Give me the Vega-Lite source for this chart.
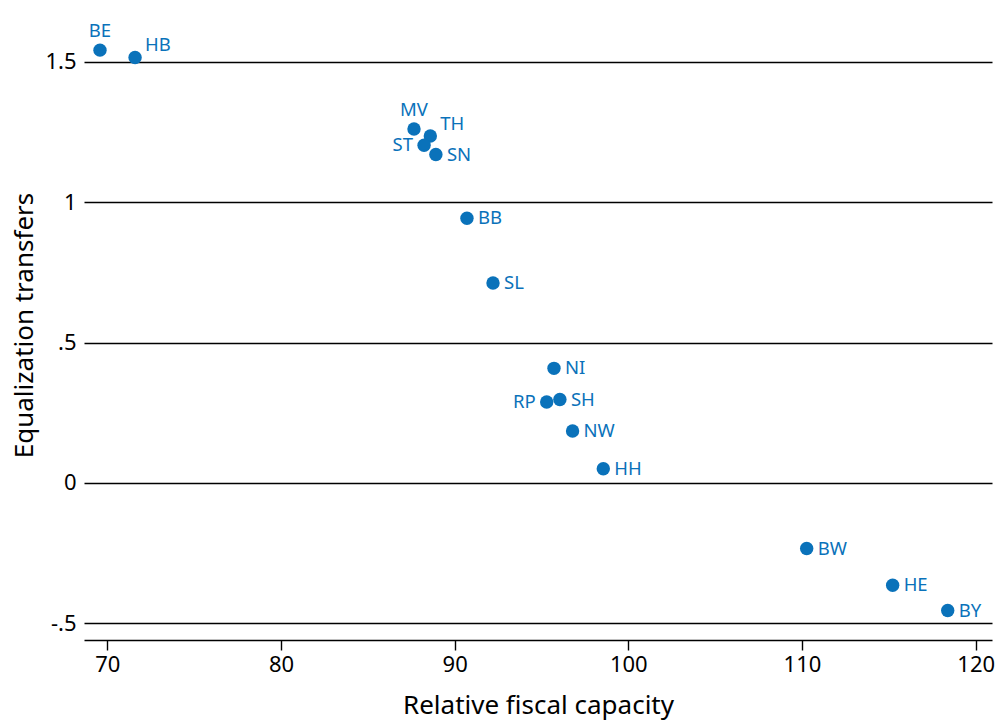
{
  "$schema": "https://vega.github.io/schema/vega-lite/v6.json",
  "width": 908,
  "height": 630,
  "autosize": {"type": "none"},
  "padding": {"left": 84, "top": 10, "right": 7, "bottom": 82},
  "background": "white",
  "config": {"view": {"stroke": null}, "font": "Noto Sans"},
  "data": {
    "values": [
      {"state": "BE", "capacity": 69.58, "transfers": 1.542, "pos": "above"},
      {"state": "HB", "capacity": 71.60, "transfers": 1.516, "pos": "upright"},
      {"state": "MV", "capacity": 87.66, "transfers": 1.261, "pos": "above"},
      {"state": "TH", "capacity": 88.60, "transfers": 1.236, "pos": "upright"},
      {"state": "ST", "capacity": 88.24, "transfers": 1.203, "pos": "left"},
      {"state": "SN", "capacity": 88.92, "transfers": 1.170, "pos": "right"},
      {"state": "BB", "capacity": 90.71, "transfers": 0.943, "pos": "right"},
      {"state": "SL", "capacity": 92.21, "transfers": 0.712, "pos": "right"},
      {"state": "NI", "capacity": 95.72, "transfers": 0.408, "pos": "right"},
      {"state": "RP", "capacity": 95.30, "transfers": 0.288, "pos": "left"},
      {"state": "SH", "capacity": 96.06, "transfers": 0.297, "pos": "right"},
      {"state": "NW", "capacity": 96.79, "transfers": 0.185, "pos": "right"},
      {"state": "HH", "capacity": 98.56, "transfers": 0.050, "pos": "right"},
      {"state": "BW", "capacity": 110.27, "transfers": -0.234, "pos": "right"},
      {"state": "HE", "capacity": 115.22, "transfers": -0.365, "pos": "right"},
      {"state": "BY", "capacity": 118.39, "transfers": -0.455, "pos": "right"}
    ]
  },
  "encoding": {
    "x": {
      "field": "capacity", "type": "quantitative",
      "scale": {"domain": [68.66, 120.94], "nice": false, "zero": false},
      "axis": {
        "title": "Relative fiscal capacity", "values": [70, 80, 90, 100, 110, 120],
        "grid": false, "domainColor": "black", "domainWidth": 1.4, "tickColor": "black", "tickWidth": 1.4, "tickSize": 10,
        "labelFontSize": 22, "labelColor": "black", "labelPadding": 4,
        "titleFontSize": 26, "titleFontWeight": "normal", "titleColor": "black", "titlePadding": 17
      }
    },
    "y": {
      "field": "transfers", "type": "quantitative",
      "scale": {"domain": [-0.56, 1.685], "nice": false, "zero": false},
      "axis": {
        "title": "Equalization transfers", "values": [-0.5, 0, 0.5, 1, 1.5],
        "labelExpr": "datum.value == 1.5 ? '1.5' : datum.value == 1 ? '1' : datum.value == 0.5 ? '.5' : datum.value == 0 ? '0' : '-.5'",
        "grid": true, "gridColor": "black", "gridWidth": 1.3, "gridOpacity": 1,
        "domain": false, "ticks": false, "labelPadding": 8,
        "labelFontSize": 22, "labelColor": "black",
        "titleFontSize": 26, "titleFontWeight": "normal", "titleColor": "black", "titlePadding": 7
      }
    }
  },
  "layer": [
    {"mark": {"type": "point", "filled": true, "size": 180, "opacity": 1, "color": "#0a72ba"}},
    {
      "transform": [{"filter": "datum.pos == 'right'"}],
      "mark": {"type": "text", "align": "left", "baseline": "middle", "dx": 11, "fontSize": 18.5, "color": "#0a72ba"},
      "encoding": {"text": {"field": "state"}}
    },
    {
      "transform": [{"filter": "datum.pos == 'upright'"}],
      "mark": {"type": "text", "align": "left", "baseline": "middle", "dx": 10, "dy": -12, "fontSize": 18.5, "color": "#0a72ba"},
      "encoding": {"text": {"field": "state"}}
    },
    {
      "transform": [{"filter": "datum.pos == 'above'"}],
      "mark": {"type": "text", "align": "center", "baseline": "middle", "dy": -19, "fontSize": 18.5, "color": "#0a72ba"},
      "encoding": {"text": {"field": "state"}}
    },
    {
      "transform": [{"filter": "datum.pos == 'left'"}],
      "mark": {"type": "text", "align": "right", "baseline": "middle", "dx": -11, "fontSize": 18.5, "color": "#0a72ba"},
      "encoding": {"text": {"field": "state"}}
    }
  ]
}
